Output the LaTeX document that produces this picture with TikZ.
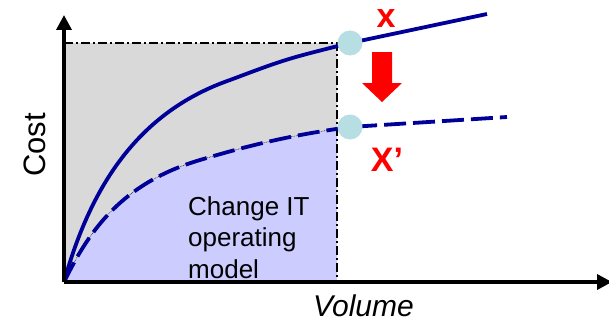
\documentclass[tikz,border=0pt]{standalone}
\usepackage{fontspec}
\setmainfont{Liberation Sans}
\usetikzlibrary{arrows.meta, positioning}
\definecolor{navy}{HTML}{000099}
\definecolor{costgray}{HTML}{D9D9D9}
\definecolor{lavender}{HTML}{CCCCFF}
\definecolor{dotblue}{HTML}{B7DEE2}
\tikzstyle{axis} = [line width=3.5pt, -{Triangle[length=15pt,width=15pt]}]
\tikzstyle{curve} = [navy, line width=3.8pt]
\tikzstyle{guide} = [black, line width=1.8pt, dash pattern=on 9pt off 3pt on 2pt off 3pt]
\tikzstyle{edge} = [black, line width=0.6pt, densely dotted]
\tikzstyle{pt} = [circle, fill=dotblue, minimum size=25pt, inner sep=0pt]
\tikzstyle{lbl} = [text=red, font=\fontsize{34}{34}\selectfont\bfseries]

\begin{document}
\begin{tikzpicture}[x=1pt, y=-1pt]
    \useasboundingbox (0,0) rectangle (609,321);
    \coordinate (O) at (64,282);
    \coordinate (ytip) at (64,15);
    \coordinate (xtip) at (612,282);
    \coordinate (corner) at (337,43);

    \fill[costgray] (O |- corner) rectangle (corner |- O);
    \begin{scope}
        \clip (O |- 0,0) rectangle (corner |- O);
        \fill[lavender] (O) .. controls (85,240) and (115,185) .. (200,160) .. controls (260,142) and (300,134) .. (350,127) |- (O) -- cycle;
        \draw[edge] (O) .. controls (85,240) and (115,185) .. (200,160) .. controls (260,142) and (300,134) .. (350,127) |- (O);
    \end{scope}
    \draw[guide] (O |- corner) -- (corner) -- (corner |- O);

    \draw[curve] (O) .. controls (95,170) and (150,108) .. (230,80) .. controls (286,59) .. (350,43) -- (487,14);
    \draw[curve, dash pattern=on 22pt off 7pt] (O) .. controls (85,240) and (115,185) .. (200,160) .. controls (260,142) and (300,134) .. (350,127) -- (507,117);

    \draw[axis] (O) -- (ytip);
    \draw[axis] (O) -- (xtip);

    \node[pt] (xa) at (350,43) {};
    \node[pt] (xb) at (350,127) {};
    \node[lbl] (xlbl) at (386,19) {x};
    \node[lbl] (xplbl) at (387,160) {X’};
    \fill[red] (372,52) -- (392,52) -- (392,83) -- (402,83) -- (382,102) -- (362,83) -- (372,83) -- cycle;

    \node[rotate=90, anchor=base, inner sep=0pt, font=\fontsize{31}{31}\selectfont] (cost) at (45,145) {Cost};
    \node[anchor=base west, inner sep=0pt, font=\fontsize{30}{30}\selectfont\itshape] (volume) at (313,316) {Volume};
    \node[align=left, anchor=north west, inner sep=0pt, font=\fontsize{26}{31.5}\selectfont] (model) at (188,196) {Change IT\\operating\\model};
\end{tikzpicture}
\end{document}
